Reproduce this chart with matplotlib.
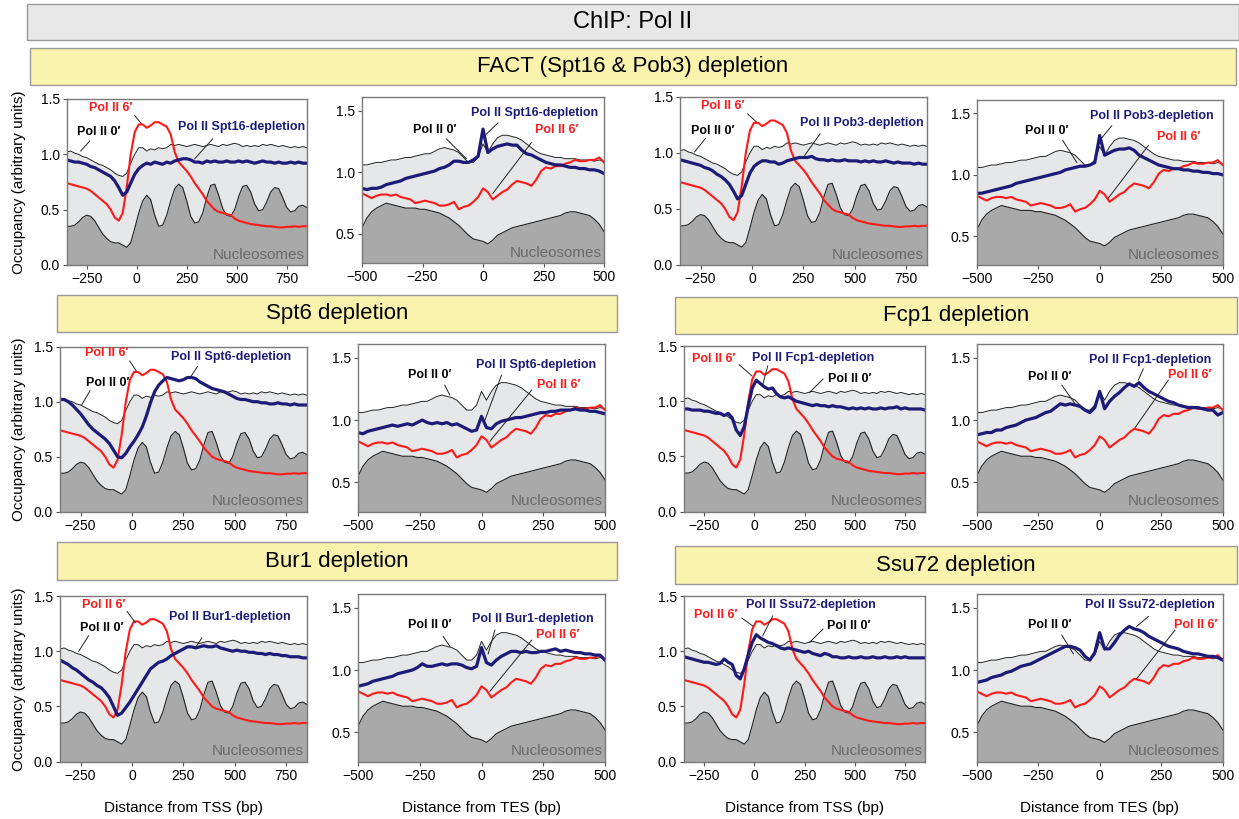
import matplotlib
matplotlib.use("Agg")
import matplotlib.pyplot as plt
from matplotlib.patches import Rectangle

plt.rcParams['font.family'] = ['Liberation Sans', 'DejaVu Sans']

# ---- data ----
tss_x = list(range(-350, 851, 20))
tes_x = list(range(-500, 501, 20))

tss_nuc = [0.35, 0.35, 0.36, 0.39, 0.43, 0.45, 0.44, 0.40, 0.34, 0.28, 0.24, 0.21, 0.20, 0.20, 0.18, 0.16,
           0.20, 0.33, 0.47, 0.58, 0.63, 0.59, 0.45, 0.35, 0.36, 0.45, 0.58, 0.69, 0.73, 0.70, 0.58, 0.44,
           0.38, 0.39, 0.47, 0.61, 0.72, 0.73, 0.63, 0.51, 0.45, 0.44, 0.50, 0.62, 0.71, 0.72, 0.66, 0.55,
           0.49, 0.50, 0.57, 0.66, 0.70, 0.69, 0.61, 0.52, 0.48, 0.49, 0.53, 0.54, 0.52]
tss_pol0 = [1.02, 1.03, 1.01, 1.00, 0.98, 0.97, 0.95, 0.93, 0.91, 0.90, 0.88, 0.86, 0.83, 0.81, 0.80, 0.83,
            0.92, 1.00, 1.06, 1.06, 1.03, 1.05, 1.04, 1.06, 1.05, 1.06, 1.09, 1.08, 1.09, 1.08, 1.07, 1.08,
            1.09, 1.08, 1.07, 1.08, 1.09, 1.08, 1.07, 1.09, 1.08, 1.09, 1.10, 1.09, 1.07, 1.08, 1.07, 1.08,
            1.07, 1.09, 1.08, 1.09, 1.08, 1.07, 1.08, 1.07, 1.06, 1.07, 1.06, 1.07, 1.06]
tss_pol6 = [0.74, 0.73, 0.72, 0.71, 0.70, 0.69, 0.67, 0.64, 0.61, 0.58, 0.55, 0.50, 0.43, 0.40, 0.47, 0.70,
            1.00, 1.20, 1.27, 1.27, 1.24, 1.26, 1.29, 1.29, 1.27, 1.25, 1.18, 1.02, 0.93, 0.89, 0.85, 0.80,
            0.74, 0.69, 0.64, 0.58, 0.54, 0.50, 0.48, 0.47, 0.46, 0.45, 0.42, 0.40, 0.39, 0.38, 0.37, 0.365,
            0.36, 0.355, 0.35, 0.35, 0.345, 0.34, 0.34, 0.345, 0.345, 0.35, 0.345, 0.35, 0.35]

tss_spt16 = [0.95, 0.94, 0.93, 0.93, 0.92, 0.91, 0.89, 0.88, 0.86, 0.84, 0.82, 0.80, 0.76, 0.70, 0.63, 0.66,
             0.74, 0.82, 0.87, 0.90, 0.92, 0.91, 0.93, 0.92, 0.91, 0.93, 0.92, 0.94, 0.95, 0.96, 0.96, 0.95,
             0.93, 0.93, 0.92, 0.94, 0.93, 0.94, 0.93, 0.93, 0.94, 0.93, 0.93, 0.94, 0.93, 0.94, 0.93, 0.92,
             0.93, 0.94, 0.93, 0.93, 0.92, 0.93, 0.92, 0.92, 0.93, 0.92, 0.93, 0.92, 0.92]
tss_pob3 = [0.94, 0.93, 0.92, 0.91, 0.90, 0.89, 0.87, 0.86, 0.84, 0.81, 0.79, 0.76, 0.72, 0.66, 0.59, 0.62,
            0.72, 0.82, 0.88, 0.91, 0.93, 0.93, 0.92, 0.92, 0.90, 0.91, 0.93, 0.94, 0.95, 0.96, 0.96, 0.96,
            0.97, 0.95, 0.94, 0.94, 0.93, 0.94, 0.93, 0.93, 0.94, 0.93, 0.93, 0.93, 0.92, 0.93, 0.92, 0.93,
            0.92, 0.92, 0.93, 0.92, 0.91, 0.92, 0.91, 0.91, 0.91, 0.90, 0.91, 0.90, 0.90]
tss_spt6 = [1.02, 1.02, 1.00, 0.97, 0.93, 0.89, 0.84, 0.79, 0.75, 0.72, 0.69, 0.66, 0.62, 0.56, 0.50, 0.49,
            0.53, 0.59, 0.64, 0.70, 0.77, 0.87, 0.99, 1.09, 1.15, 1.19, 1.22, 1.21, 1.20, 1.19, 1.20, 1.22,
            1.22, 1.21, 1.18, 1.16, 1.14, 1.12, 1.11, 1.10, 1.09, 1.07, 1.05, 1.03, 1.02, 1.02, 1.01, 1.00,
            1.00, 0.99, 0.99, 0.98, 0.98, 0.99, 0.98, 0.98, 0.97, 0.98, 0.97, 0.97, 0.97]
tss_fcp1 = [0.93, 0.93, 0.92, 0.92, 0.92, 0.91, 0.91, 0.90, 0.89, 0.89, 0.87, 0.89, 0.85, 0.74, 0.69, 0.77,
            0.96, 1.12, 1.19, 1.16, 1.13, 1.11, 1.12, 1.07, 1.04, 1.03, 1.04, 1.02, 1.00, 0.99, 0.98, 0.97,
            0.96, 0.97, 0.96, 0.96, 0.95, 0.96, 0.95, 0.95, 0.94, 0.93, 0.94, 0.93, 0.94, 0.93, 0.94, 0.93,
            0.93, 0.94, 0.93, 0.94, 0.94, 0.95, 0.93, 0.94, 0.93, 0.93, 0.93, 0.93, 0.92]
tss_bur1 = [0.92, 0.90, 0.88, 0.85, 0.83, 0.80, 0.77, 0.74, 0.72, 0.69, 0.67, 0.63, 0.58, 0.50, 0.42, 0.44,
            0.49, 0.54, 0.60, 0.66, 0.72, 0.78, 0.84, 0.87, 0.90, 0.91, 0.93, 0.96, 0.98, 1.00, 1.02, 1.04,
            1.04, 1.03, 1.04, 1.05, 1.04, 1.04, 1.05, 1.03, 1.02, 1.01, 1.00, 1.01, 1.00, 1.00, 0.99, 0.99,
            0.98, 0.98, 0.97, 0.98, 0.97, 0.97, 0.96, 0.96, 0.95, 0.95, 0.95, 0.94, 0.94]
tss_ssu72 = [0.95, 0.94, 0.93, 0.92, 0.91, 0.90, 0.90, 0.89, 0.88, 0.89, 0.93, 0.90, 0.88, 0.78, 0.75, 0.84,
             0.97, 1.08, 1.15, 1.12, 1.10, 1.08, 1.07, 1.05, 1.03, 1.02, 1.03, 1.02, 1.01, 1.00, 0.99, 1.00,
             0.98, 0.97, 0.96, 0.98, 0.97, 0.95, 0.95, 0.94, 0.94, 0.95, 0.94, 0.94, 0.95, 0.94, 0.94, 0.95,
             0.94, 0.94, 0.95, 0.94, 0.94, 0.95, 0.94, 0.95, 0.94, 0.94, 0.94, 0.94, 0.94]

tes_nuc = [0.55, 0.63, 0.68, 0.71, 0.73, 0.75, 0.74, 0.73, 0.72, 0.71, 0.71, 0.71, 0.70, 0.70, 0.69, 0.68,
           0.67, 0.65, 0.63, 0.60, 0.57, 0.53, 0.49, 0.46, 0.45, 0.44, 0.42, 0.45, 0.49, 0.51, 0.53, 0.55,
           0.56, 0.57, 0.58, 0.59, 0.60, 0.61, 0.62, 0.63, 0.64, 0.65, 0.67, 0.68, 0.68, 0.67, 0.66, 0.65,
           0.62, 0.58, 0.52]
tes_pol0 = [1.06, 1.06, 1.07, 1.08, 1.08, 1.09, 1.10, 1.10, 1.11, 1.12, 1.12, 1.13, 1.14, 1.15, 1.15, 1.17,
            1.19, 1.20, 1.19, 1.18, 1.16, 1.12, 1.08, 1.08, 1.12, 1.23, 1.16, 1.23, 1.28, 1.30, 1.30, 1.29,
            1.28, 1.26, 1.23, 1.20, 1.17, 1.15, 1.14, 1.13, 1.12, 1.12, 1.11, 1.11, 1.11, 1.10, 1.10, 1.10,
            1.09, 1.10, 1.09]
tes_pol6 = [0.83, 0.81, 0.79, 0.81, 0.82, 0.82, 0.81, 0.82, 0.80, 0.79, 0.78, 0.75, 0.76, 0.77, 0.76, 0.75,
            0.73, 0.73, 0.74, 0.76, 0.70, 0.72, 0.73, 0.76, 0.80, 0.87, 0.84, 0.78, 0.81, 0.84, 0.86, 0.90,
            0.93, 0.92, 0.91, 0.89, 0.94, 1.01, 1.04, 1.03, 1.05, 1.05, 1.07, 1.08, 1.10, 1.09, 1.09, 1.10,
            1.10, 1.12, 1.08]

tes_spt16 = [0.87, 0.86, 0.87, 0.87, 0.88, 0.90, 0.91, 0.92, 0.93, 0.95, 0.96, 0.97, 0.98, 0.99, 1.00, 1.01,
             1.03, 1.04, 1.06, 1.09, 1.09, 1.08, 1.08, 1.10, 1.13, 1.35, 1.16, 1.19, 1.21, 1.22, 1.23, 1.22,
             1.22, 1.18, 1.15, 1.14, 1.12, 1.10, 1.08, 1.07, 1.06, 1.06, 1.05, 1.04, 1.04, 1.03, 1.03, 1.02,
             1.02, 1.01, 0.99]
tes_pob3 = [0.85, 0.85, 0.86, 0.87, 0.88, 0.89, 0.90, 0.91, 0.93, 0.94, 0.95, 0.96, 0.97, 0.98, 0.99, 1.00,
            1.01, 1.02, 1.04, 1.05, 1.06, 1.07, 1.07, 1.08, 1.10, 1.32, 1.16, 1.18, 1.20, 1.21, 1.21, 1.22,
            1.20, 1.16, 1.14, 1.12, 1.10, 1.08, 1.07, 1.06, 1.05, 1.05, 1.04, 1.04, 1.03, 1.03, 1.02, 1.02,
            1.01, 1.01, 1.00]
tes_spt6 = [0.90, 0.89, 0.91, 0.92, 0.93, 0.94, 0.95, 0.96, 0.95, 0.96, 0.97, 0.96, 0.98, 1.00, 0.98, 0.97,
            0.98, 0.97, 0.98, 0.96, 0.97, 0.95, 0.93, 0.91, 0.92, 1.03, 0.94, 0.93, 0.97, 0.99, 1.00, 1.01,
            1.02, 1.02, 1.03, 1.04, 1.05, 1.06, 1.06, 1.07, 1.07, 1.08, 1.08, 1.08, 1.09, 1.08, 1.08, 1.07,
            1.07, 1.06, 1.05]
tes_fcp1 = [0.88, 0.89, 0.90, 0.90, 0.92, 0.92, 0.94, 0.95, 0.96, 0.98, 1.00, 1.01, 1.02, 1.04, 1.06, 1.07,
            1.10, 1.13, 1.12, 1.13, 1.12, 1.11, 1.08, 1.06, 1.10, 1.23, 1.09, 1.15, 1.19, 1.22, 1.26, 1.29,
            1.27, 1.30, 1.26, 1.23, 1.21, 1.19, 1.17, 1.15, 1.14, 1.12, 1.11, 1.10, 1.10, 1.10, 1.09, 1.08,
            1.08, 1.04, 1.06]
tes_bur1 = [0.87, 0.88, 0.89, 0.91, 0.92, 0.93, 0.94, 0.95, 0.97, 0.98, 0.99, 1.00, 1.02, 1.05, 1.03, 1.03,
            1.04, 1.05, 1.04, 1.05, 1.05, 1.04, 1.02, 1.01, 1.03, 1.18, 1.06, 1.04, 1.08, 1.11, 1.13, 1.15,
            1.15, 1.14, 1.15, 1.14, 1.14, 1.15, 1.15, 1.16, 1.17, 1.15, 1.16, 1.15, 1.14, 1.14, 1.13, 1.13,
            1.12, 1.12, 1.08]
tes_ssu72 = [0.90, 0.91, 0.92, 0.94, 0.95, 0.96, 0.98, 0.99, 1.01, 1.03, 1.04, 1.05, 1.07, 1.09, 1.11, 1.13,
             1.15, 1.17, 1.19, 1.19, 1.18, 1.16, 1.11, 1.08, 1.14, 1.30, 1.17, 1.17, 1.22, 1.28, 1.32, 1.35,
             1.33, 1.32, 1.30, 1.27, 1.25, 1.23, 1.21, 1.19, 1.18, 1.17, 1.15, 1.14, 1.13, 1.13, 1.12, 1.11,
             1.11, 1.10, 1.08]

factor_names = ["Spt16", "Pob3", "Spt6", "Fcp1", "Bur1", "Ssu72"]
header_titles = ["FACT (Spt16 & Pob3) depletion", "Spt6 depletion", "Fcp1 depletion",
                 "Bur1 depletion", "Ssu72 depletion"]

RED = "#ff1a1a"
BLUE = "#1c1c78"
LIGHT = "#e6e7e8"
DARK = "#a9a9a9"

W, H = 1239, 819
fig = plt.figure(figsize=(W / 100, H / 100), dpi=100)


def px_axes(x0, y0, x1, y1):
    return fig.add_axes([x0 / W, 1 - y1 / H, (x1 - x0) / W, (y1 - y0) / H])


def header(x0, y0, x1, y1, text, face, size=16):
    fig.patches.append(Rectangle((x0 / W, 1 - y1 / H), (x1 - x0) / W, (y1 - y0) / H,
                                 transform=fig.transFigure, facecolor=face,
                                 edgecolor="#9a9a9a", lw=1.0))
    fig.text((x0 + x1) / 2 / W, 1 - (y0 + y1) / 2 / H, text, ha="center", va="center",
             fontsize=size)


def draw_panel(ax, x, pol0, pol6, nuc, blue, tss, labels):
    ax.set_facecolor("white")
    base = 0 if tss else 0.2
    ax.fill_between(x, base, pol0, color=LIGHT, lw=0)
    ax.plot(x, pol0, color="#222222", lw=0.7)
    ax.fill_between(x, base, nuc, color=DARK, lw=0)
    ax.plot(x, nuc, color="#222222", lw=0.8)
    ax.plot(x, pol6, color=RED, lw=1.5)
    ax.plot(x, blue, color=BLUE, lw=2.3)
    if tss:
        ax.set_xlim(-350, 850)
        ax.set_ylim(0, 1.5)
        ax.set_xticks([-250, 0, 250, 500, 750])
        ax.set_yticks([0, 0.5, 1.0, 1.5])
        ax.set_yticklabels(["0.0", "0.5", "1.0", "1.5"])
    else:
        ax.set_xlim(-500, 500)
        ax.set_ylim(0.265, 1.61)
        ax.set_xticks([-500, -250, 0, 250, 500])
        ax.set_yticks([0.5, 1.0, 1.5])
        ax.set_yticklabels(["0.5", "1.0", "1.5"])
    for s in ax.spines.values():
        s.set_color("#7a7a7a")
        s.set_linewidth(1.0)
    ax.tick_params(direction="out", length=3, width=0.8, color="#555555",
                   labelsize=10, pad=2)
    ax.text(0.99, 0.02, "Nucleosomes", transform=ax.transAxes, ha="right", va="bottom",
            fontsize=11, color="#6a6a6a")
    for text, color, tpos, p1, p2 in labels:
        ax.plot([p1[0], p2[0]], [p1[1], p2[1]], color="#222222", lw=0.7)
        ax.text(tpos[0], tpos[1], text, color=color, fontsize=9, fontweight="bold",
                ha="center", va="center")


# headers
header(27, 4, 1239, 40, "ChIP: Pol II", "#e8e8e8", 17)
header(30, 48, 1236, 85, header_titles[0], "#faf3ad")
header(57, 295, 617, 332, header_titles[1], "#faf3ad")
header(675, 297, 1237, 334, header_titles[2], "#faf3ad")
header(57, 542, 617, 580, header_titles[3], "#faf3ad")
header(675, 546, 1237, 584, header_titles[4], "#faf3ad")

P0 = "Pol II 0\u2032"
P6 = "Pol II 6\u2032"


def dep(name):
    return "Pol II " + name + "-depletion"


# (factor, tss blue, tes blue, tss box, tes box, tss labels, tes labels)
panels = [
    (factor_names[0], tss_spt16, tes_spt16, (66.7, 99, 306.7, 265), (362, 97, 604, 263),
     [(P6, RED, (-130, 1.42), (-10, 1.35), (22, 1.28)),
      (P0, "black", (-190, 1.20), (-235, 1.12), (-280, 1.03)),
      (dep(factor_names[0]), BLUE, (525, 1.25), (380, 1.14), (290, 0.96))],
     [(P0, "black", (-200, 1.34), (-151, 1.27), (-69, 1.11)),
      (dep(factor_names[0]), BLUE, (213, 1.48), (62, 1.40), (14, 1.31)),
      (P6, RED, (306, 1.34), (200, 1.24), (41, 0.83))]),
    (factor_names[1], tss_pob3, tes_pob3, (680, 97, 926.7, 265), (976.7, 100, 1222.7, 265),
     [(P6, RED, (-141, 1.42), (-21, 1.35), (20, 1.28)),
      (P0, "black", (-189, 1.20), (-226, 1.13), (-279, 1.01)),
      (dep(factor_names[1]), BLUE, (536, 1.27), (331, 1.17), (257, 0.98))],
     [(P0, "black", (-215, 1.36), (-150, 1.28), (-93, 1.10)),
      (dep(factor_names[1]), BLUE, (211, 1.48), (49, 1.40), (8, 1.30)),
      (P6, RED, (320, 1.31), (198, 1.24), (35, 0.81))]),
    (factor_names[2], tss_spt6, tes_spt6, (60, 346.7, 306.7, 511.7), (358, 344, 605, 511.7),
     [(P6, RED, (-124, 1.44), (-11, 1.37), (21, 1.28)),
      (P0, "black", (-119, 1.17), (-204, 1.10), (-245, 0.97)),
      (dep(factor_names[2]), BLUE, (483, 1.41), (319, 1.32), (287, 1.23))],
     [(P0, "black", (-209, 1.36), (-149, 1.28), (-128, 1.20)),
      (dep(factor_names[2]), BLUE, (220, 1.44), (81, 1.36), (14, 1.00)),
      (P6, RED, (311, 1.28), (203, 1.24), (34, 0.83))]),
    (factor_names[3], tss_fcp1, tes_fcp1, (684, 346, 925, 511.7), (976.7, 344, 1222.7, 511.7),
     [(P6, RED, (-203, 1.385), (-75, 1.33), (-12, 1.23)),
      (dep(factor_names[3]), BLUE, (295, 1.39), (67, 1.32), (42, 1.15)),
      (P0, "black", (475, 1.20), (342, 1.20), (275, 1.08))],
     [(P0, "black", (-202, 1.345), (-154, 1.28), (-100, 1.13)),
      (dep(factor_names[3]), BLUE, (205, 1.485), (177, 1.41), (157, 1.32)),
      (P6, RED, (367, 1.36), (279, 1.32), (144, 0.94))]),
    (factor_names[4], tss_bur1, tes_bur1, (60, 596, 306.7, 761.7), (358, 594, 605, 761.7),
     [(P6, RED, (-138, 1.42), (-24, 1.36), (16, 1.26)),
      (P0, "black", (-146, 1.21), (-211, 1.14), (-259, 1.00)),
      (dep(factor_names[4]), BLUE, (478, 1.31), (340, 1.12), (308, 1.03))],
     [(P0, "black", (-209, 1.36), (-155, 1.27), (-128, 1.19)),
      (dep(factor_names[4]), BLUE, (209, 1.41), (54, 1.32), (27, 1.13)),
      (P6, RED, (307, 1.28), (203, 1.24), (34, 0.83))]),
    (factor_names[5], tss_ssu72, tes_ssu72, (684, 596, 925, 761.7), (976.7, 594, 1222.7, 761.7),
     [(P6, RED, (-192, 1.33), (-62, 1.30), (-8, 1.23)),
      (dep(factor_names[5]), BLUE, (283, 1.42), (92, 1.32), (42, 1.14)),
      (P0, "black", (472, 1.23), (342, 1.20), (275, 1.08))],
     [(P0, "black", (-202, 1.36), (-154, 1.28), (-107, 1.13)),
      (dep(factor_names[5]), BLUE, (202, 1.52), (198, 1.43), (150, 1.35)),
      (P6, RED, (392, 1.36), (306, 1.32), (150, 0.93))]),
]

for i, (name, b_tss, b_tes, box_tss, box_tes, lab_tss, lab_tes) in enumerate(panels):
    ax1 = px_axes(*box_tss)
    draw_panel(ax1, tss_x, tss_pol0, tss_pol6, tss_nuc, b_tss, True, lab_tss)
    ax2 = px_axes(*box_tes)
    draw_panel(ax2, tes_x, tes_pol0, tes_pol6, tes_nuc, b_tes, False, lab_tes)
    if i % 2 == 0:
        ax1.set_ylabel("Occupancy (arbitrary units)", fontsize=11)
        ax1.yaxis.set_label_coords((26 - box_tss[0]) / (box_tss[2] - box_tss[0]), 0.5)
    if i >= 4:
        ax1.set_xlabel("Distance from TSS (bp)", fontsize=11, labelpad=13)
        ax2.set_xlabel("Distance from TES (bp)", fontsize=11, labelpad=13)

fig.savefig("out.png", dpi=100)
